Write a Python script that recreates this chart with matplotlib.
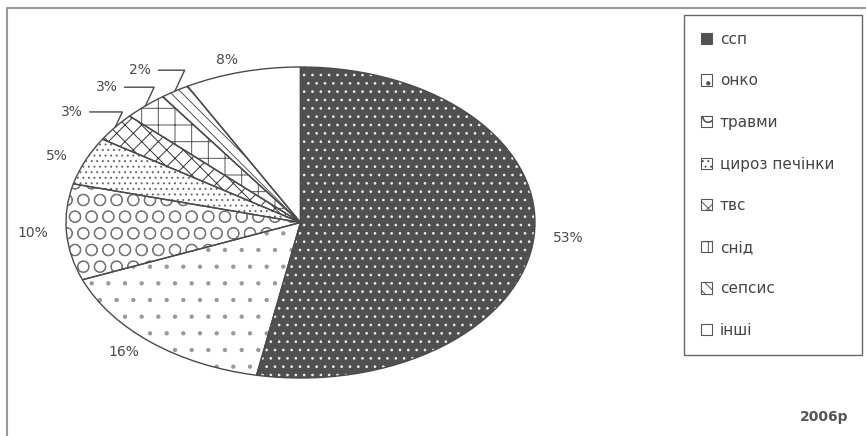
import numpy as np
import matplotlib as mpl
import matplotlib.pyplot as plt
import matplotlib.patches as mpatches
from matplotlib.lines import Line2D

# causes of death, 2006
causes = ['ссп', 'онко', 'травми', 'цироз печінки', 'твс', 'снід', 'сепсис', 'інші']
shares = [53, 16, 10, 5, 3, 3, 2, 8]
year_label = '2006р'

faces = ['#505050', 'white', 'white', 'white', 'white', 'white', 'white', 'white']
hatch_cols = ['#eeeeee', '#999999', '#777777', '#666666', '#333333', '#555555', '#555555', '#555555']
hatches = ['..', '.', 'O', '...', 'xx', '+', '\\\\\\', '']
leader = [4, 5, 6]

mpl.rcParams.update({
    'font.family': ['DejaVu Sans'],
    'hatch.linewidth': 0.7,
})

W, H = 866, 436
fig = plt.figure(figsize=(W / 100, H / 100), dpi=100)
ax = fig.add_axes([66 / W, (H - 378) / H, 469 / W, 311 / H])

wedges, _ = ax.pie(shares, startangle=90, counterclock=False,
                   colors=faces, wedgeprops=dict(linewidth=0))
for w, h, hc in zip(wedges, hatches, hatch_cols):
    w.set_hatch(h)
    w.set_edgecolor(hc)
# outlines on top
ax.pie(shares, startangle=90, counterclock=False,
       wedgeprops=dict(fill=False, edgecolor='#4a4a4a', linewidth=1.0))
ax.set_aspect('auto')
ax.set_xlim(-1, 1)
ax.set_ylim(-1, 1)
ax.set_axis_off()

vals = np.array(shares, float)
edges = 90 - 360 * np.concatenate([[0], np.cumsum(vals)]) / vals.sum()
mids = np.deg2rad((edges[:-1] + edges[1:]) / 2)

txt_kw = dict(fontsize=10, color='#4a4a4a')
for i, (v, a) in enumerate(zip(shares, mids)):
    c, s = np.cos(a), np.sin(a)
    if i in leader:
        ax.annotate(f'{v}%', xy=(c, s), xytext=(1.15 * c - 0.02, 1.16 * s),
                    ha='right', va='center', **txt_kw,
                    arrowprops=dict(arrowstyle='-', color='#4a4a4a', lw=1.0,
                                    relpos=(1, 0.5), shrinkA=3, shrinkB=0,
                                    connectionstyle='angle,angleA=0,angleB=65,rad=0'))
    else:
        ax.text(1.08 * c, 1.08 * s, f'{v}%', ha='left' if c > 0 else 'right',
                va='center', **txt_kw)

handles = [mpatches.Patch(facecolor=f, edgecolor='#555555', hatch=h, linewidth=0.8)
           for f, h in zip(faces, hatches)]
leg = fig.legend(handles, causes, loc='upper left',
                 bbox_to_anchor=(684 / W, (H - 352) / H, 178 / W, 337 / H),
                 mode='expand', frameon=True, fancybox=False, framealpha=1,
                 edgecolor='#666666', borderaxespad=0, fontsize=11,
                 labelspacing=1.74, handlelength=0.75, handleheight=0.75,
                 handletextpad=0.5, borderpad=1.1, labelcolor='#444444')
leg.get_frame().set_linewidth(1.0)

fig.text(848 / W, 1 - 417 / H, year_label, ha='right', va='center',
         fontsize=10, fontweight='bold', color='#555555')

# outer frame of the scanned figure
fig.add_artist(Line2D([7 / W, 7 / W, 1], [0, 1 - 8 / H, 1 - 8 / H],
                      transform=fig.transFigure, color='#999999', lw=1.5))

fig.savefig('out.png', dpi=100)
